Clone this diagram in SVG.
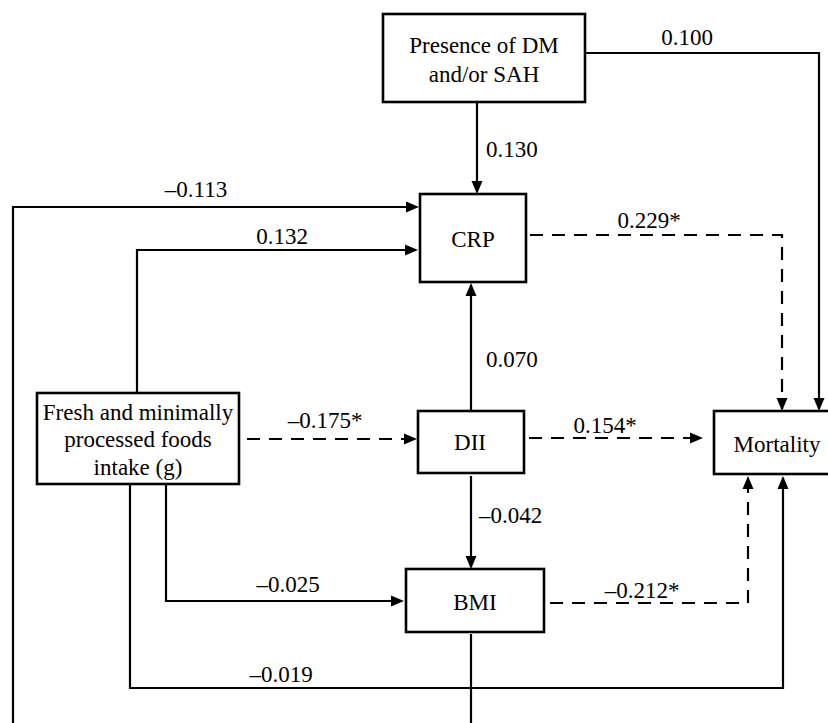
<svg xmlns="http://www.w3.org/2000/svg" width="828" height="723" viewBox="0 0 828 723" font-family="'Liberation Serif', 'Times New Roman', Times, serif">
<defs>
<style>
text{font-family:'Liberation Serif','Times New Roman',Times,serif}
.box{fill:#fff;stroke:#000;stroke-width:2.6}
.t{font-size:23px;fill:#000;text-anchor:middle}
.ts{font-size:23px;fill:#000;text-anchor:start}
.e{fill:none;stroke:#000;stroke-width:2.2}
.d{stroke-dasharray:13 9}
</style>
<marker id="ah" markerUnits="userSpaceOnUse" markerWidth="13" markerHeight="12" viewBox="0 0 13 12" refX="11" refY="6" orient="auto">
<path d="M0,0.5 L13,6 L0,11.5 z" fill="#000"/>
</marker>
</defs>
<rect width="828" height="723" fill="#fff"/>
<g id="connectors">
<path class="e" d="M585,53 H819 V409" marker-end="url(#ah)"/>
<path class="e" d="M477,102 V192" marker-end="url(#ah)"/>
<path class="e" d="M13,723 V207 H417" marker-end="url(#ah)"/>
<path class="e" d="M137,393 V250 H416" marker-end="url(#ah)"/>
<path class="e d" d="M247,439 H415" marker-end="url(#ah)"/>
<path class="e" d="M471,411 V285" marker-end="url(#ah)"/>
<path class="e d" d="M529,438 H701" marker-end="url(#ah)"/>
<path class="e d" d="M530,235 H782 V409" marker-end="url(#ah)"/>
<path class="e" d="M471,476 V567" marker-end="url(#ah)"/>
<path class="e" d="M166,484 V601 H402" marker-end="url(#ah)"/>
<path class="e d" d="M550,603 H748 V478" marker-end="url(#ah)"/>
<path class="e" d="M130,484 V688 H783 V478" marker-end="url(#ah)"/>
<path class="e" d="M471,634 V723"/>
<text class="t" x="687" y="45">0.100</text>
<text class="ts" x="486" y="157">0.130</text>
<text class="t" x="196" y="197">–0.113</text>
<text class="t" x="282" y="244">0.132</text>
<text class="t" x="649" y="228">0.229*</text>
<text class="ts" x="486" y="367">0.070</text>
<text class="t" x="325" y="428">–0.175*</text>
<text class="t" x="605" y="433">0.154*</text>
<text class="ts" x="479" y="523">–0.042</text>
<text class="t" x="288" y="592">–0.025</text>
<text class="t" x="642" y="598">–0.212*</text>
<text class="t" x="281" y="682">–0.019</text>
</g>
<g id="presence">
<rect class="box" x="383" y="14" width="202" height="88"/>
<text class="t" x="484" y="53">Presence of DM</text>
<text class="t" x="484" y="82">and/or SAH</text>
</g>
<g id="crp">
<rect class="box" x="420" y="194" width="106" height="88"/>
<text class="t" x="473" y="247">CRP</text>
</g>
<g id="fresh">
<rect class="box" x="37" y="393" width="202" height="91"/>
<text class="t" x="138" y="420">Fresh and minimally</text>
<text class="t" x="138" y="447">processed foods</text>
<text class="t" x="138" y="475">intake (g)</text>
</g>
<g id="dii">
<rect class="box" x="418" y="411" width="106" height="62"/>
<text class="t" x="470" y="450">DII</text>
</g>
<g id="mortality">
<rect class="box" x="714" y="411" width="120" height="63"/>
<text class="t" x="777" y="452">Mortality</text>
</g>
<g id="bmi">
<rect class="box" x="406" y="569" width="138" height="63"/>
<text class="t" x="475" y="610">BMI</text>
</g>
</svg>
